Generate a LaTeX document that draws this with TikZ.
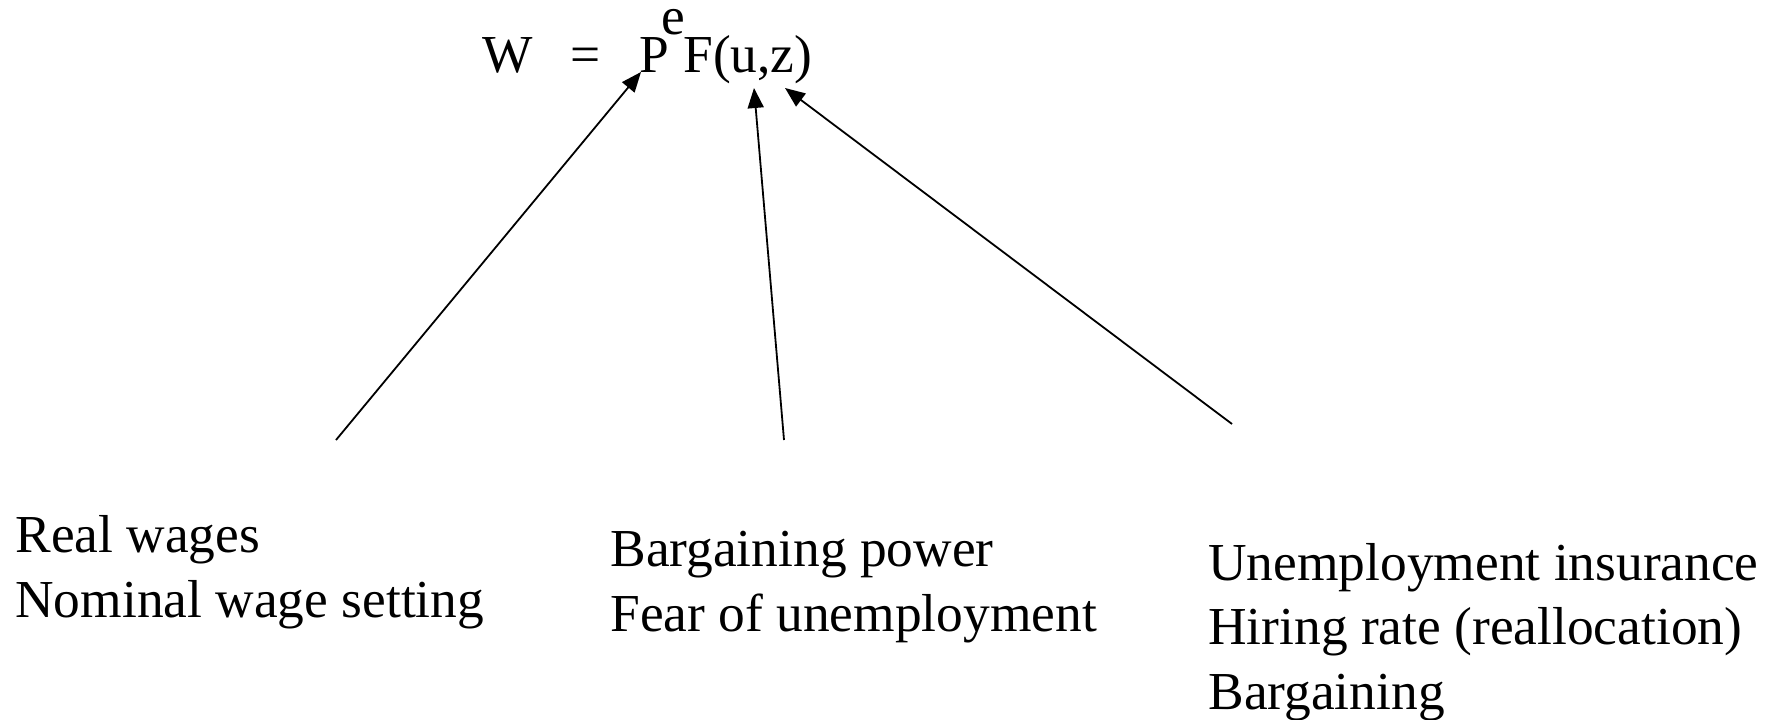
\documentclass[tikz,border=0pt]{standalone}
\usepackage{fontspec}
\setmainfont{Liberation Serif}
\usetikzlibrary{arrows.meta, positioning}

\begin{document}
\begin{tikzpicture}[x=0.5pt, y=-0.5pt,
    every node/.style={inner sep=0pt, font=\fontsize{26.7}{32.25}\selectfont},
    factor/.style={anchor=base west, align=left},
    link/.style={-{Triangle[length=10pt, width=8pt]}, line width=0.9pt}]
    \useasboundingbox (0,0) rectangle (1781,719);

    % Wage equation
    \node[anchor=base west] (W) at (482,72) {W};
    \node[anchor=base west] (eq) at (570,72) {=};
    \node[anchor=base west] (P) at (639,72) {P};
    \node[anchor=base west] (e) at (661,34) {e};
    \node[anchor=base west] (F) at (683,72) {F(u,z)};

    % Determinants (placed by their last line)
    \node[factor] (real) at (15,617) {Real wages\\Nominal wage setting};
    \node[factor] (barg) at (610,631) {Bargaining power\\Fear of unemployment};
    \node[factor] (ins) at (1208,709) {Unemployment insurance\\Hiring rate (reallocation)\\Bargaining};

    % Arrow ends
    \coordinate (realtail) at (336,440);
    \coordinate (bargtail) at (784,440);
    \coordinate (instail) at (1232,424);
    \coordinate (Ptip) at (641,72);
    \coordinate (utip) at (754,88);
    \coordinate (ztip) at (785,88);

    \draw[link] (realtail) -- (Ptip);
    \draw[link] (bargtail) -- (utip);
    \draw[link] (instail) -- (ztip);
\end{tikzpicture}
\end{document}
